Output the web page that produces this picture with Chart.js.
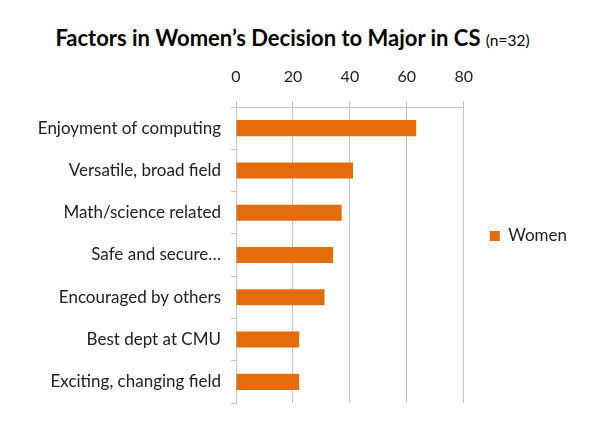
<!DOCTYPE html>
<html>
<head>
<meta charset="utf-8">
<script src="https://cdn.jsdelivr.net/npm/chart.js@4"></script>
<style>
  body { margin: 0; background: #fff; }
  #wrap { position: relative; width: 593px; height: 437px; overflow: hidden; }
  #title {
    position: absolute; left: 0; top: 25px; width: 585px;
    text-align: center; font-family: Lato, sans-serif; font-weight: bold;
    font-size: 22px; line-height: 26px; color: #000; white-space: nowrap;
  }
  #title small { font-size: 15.5px; font-weight: normal; }
  #box { position: absolute; left: 0; top: 36px; width: 593px; height: 401px; }
</style>
</head>
<body>
<div id="wrap">
  <div id="title">Factors in Women’s Decision to Major in CS <small>(n=32)</small></div>
  <div id="box"><canvas id="barChart" width="593" height="401"></canvas></div>
</div>
<script>
// survey answers, percent of women (n=32)
const factors = ['Enjoyment of computing', 'Versatile, broad field', 'Math/science related',
  'Safe and secure…', 'Encouraged by others', 'Best dept at CMU', 'Exciting, changing field'];
const women = [63.3, 41.1, 37.1, 34.1, 31.1, 22.2, 22.2];
const xTicks = [0, 20, 40, 60, 80];

const orange = '#E46C0A';
const gridGray = '#c4c4c4';

const ctx = document.getElementById('barChart').getContext('2d');
new Chart(ctx, {
    type: 'bar',
    data: {
        labels: factors,
        datasets: [{
            label: 'Women',
            data: women,
            backgroundColor: orange,
            borderWidth: 0,
            barPercentage: 0.38,
            categoryPercentage: 1
        }]
    },
    options: {
        indexAxis: 'y',
        responsive: false,
        animation: false,
        layout: { padding: { top: 33, bottom: 34, left: 0, right: 16 } },
        scales: {
            x: {
                position: 'top',
                min: 0,
                max: 80,
                afterBuildTicks: (scale) => { scale.ticks = xTicks.map(v => ({ value: v })); },
                afterFit: (scale) => { scale.height = 38; },
                grid: { color: gridGray, tickLength: 6 },
                border: { color: gridGray },
                ticks: { padding: 15, color: '#222', font: { family: 'Lato', size: 16 } }
            },
            y: {
                afterFit: (scale) => { scale.width = 236; },
                grid: { drawOnChartArea: false, color: gridGray, tickLength: 5 },
                border: { color: gridGray },
                ticks: { padding: 10, color: '#222', font: { family: 'Lato', size: 17 } }
            }
        },
        plugins: {
            legend: {
                position: 'right',
                labels: {
                    boxWidth: 10,
                    boxHeight: 10,
                    padding: 26,
                    color: '#222',
                    font: { family: 'Lato', size: 17 }
                }
            },
            tooltip: { enabled: false }
        }
    }
});
</script>
</body>
</html>
